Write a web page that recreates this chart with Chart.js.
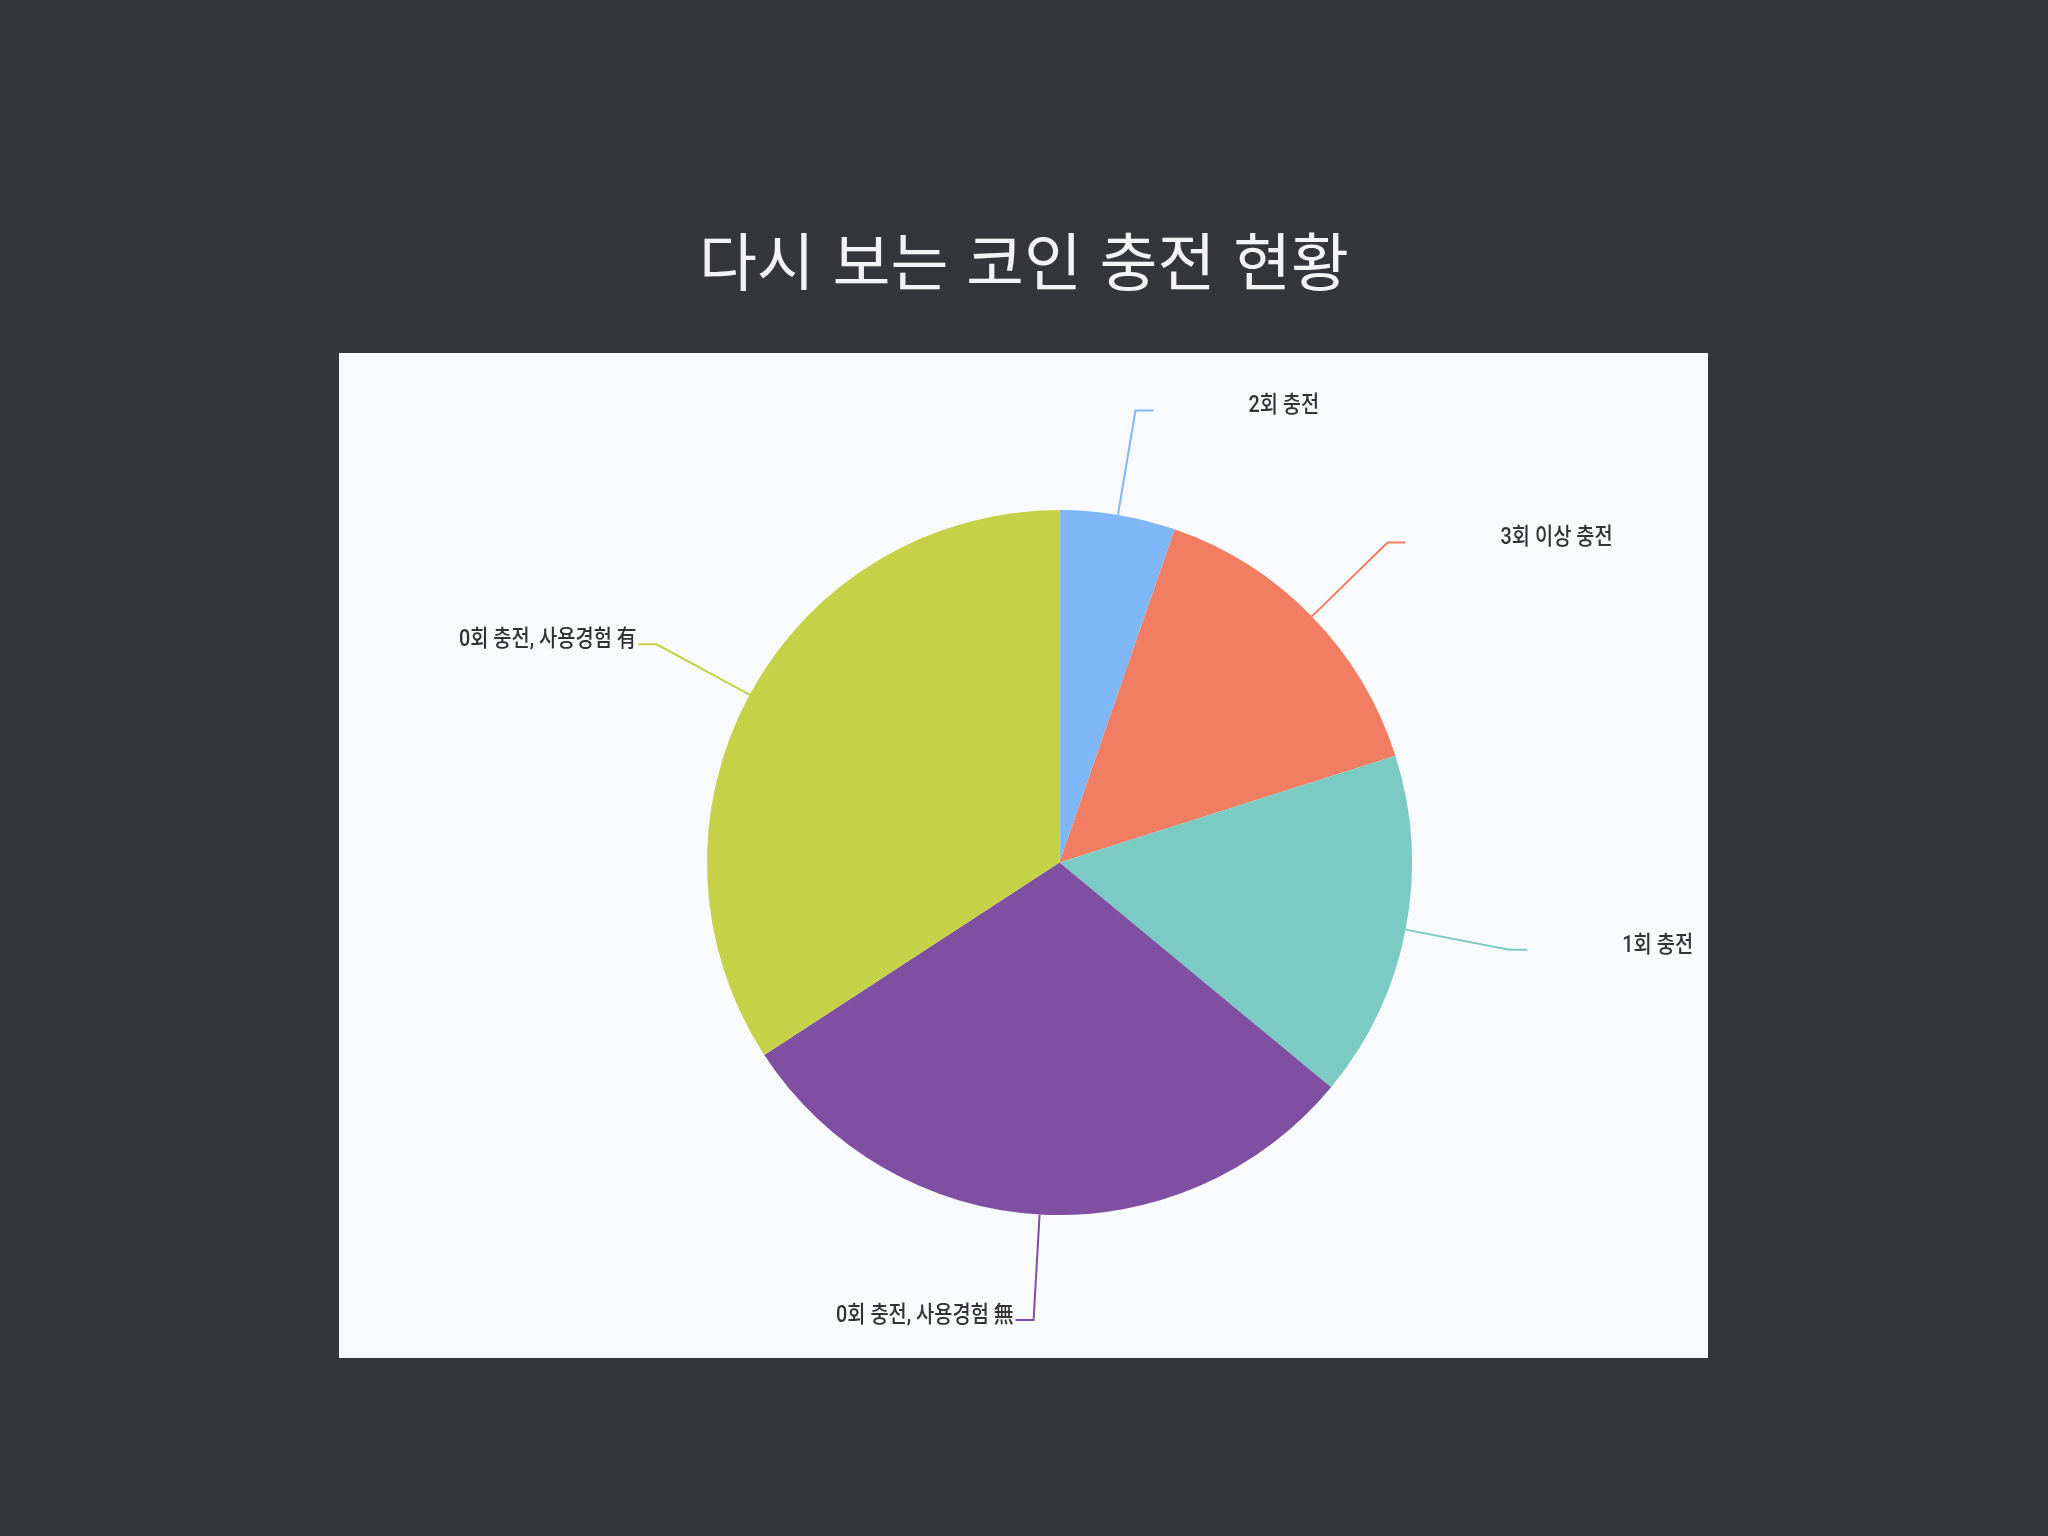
<!DOCTYPE html>
<html lang="ko">
<head>
    <meta charset="UTF-8">
    <title>다시 보는 코인 충전 현황</title>
    <style>
        html, body { margin: 0; padding: 0; }
        body {
            width: 2048px;
            height: 1536px;
            background: #35363a;
            position: relative;
            overflow: hidden;
        }
        #title {
            position: absolute;
            left: 0;
            top: 217px;
            width: 2048px;
            text-align: center;
            color: #f3f3f3;
            font-family: "Noto Sans CJK KR", "Noto Sans", sans-serif;
            font-size: 63px;
            line-height: 82px;
            font-weight: 400;
        }
        #panel {
            position: absolute;
            left: 339px;
            top: 353px;
            width: 1369px;
            height: 1005px;
            background: #f9fafc;
        }
    </style>
</head>
<body>
    <div id="title">다시 보는 코인 충전 현황</div>
    <div id="panel">
        <canvas id="myChart"></canvas>
    </div>

    <script src="https://cdn.jsdelivr.net/npm/chart.js"></script>

    <script>
    // slices, clockwise from 12 o'clock
    const labels = ['2회 충전', '3회 이상 충전', '1회 충전', '0회 충전, 사용경험 無', '0회 충전, 사용경험 有'];
    const values = [5.3, 14.8, 15.9, 29.8, 34.2];
    const colors = ['#80b7f9', '#f17d62', '#7bcbc4', '#7f4fa2', '#c5d248'];

    // leader lines + outside labels
    const calloutPlugin = {
        id: 'callouts',
        afterDatasetsDraw(chart) {
            const ctx = chart.ctx;
            const meta = chart.getDatasetMeta(0);
            meta.data.forEach((arc, i) => {
                const p = arc.getProps(['x', 'y', 'startAngle', 'endAngle', 'outerRadius'], true);
                const mid = (p.startAngle + p.endAngle) / 2;
                const cos = Math.cos(mid), sin = Math.sin(mid);
                const r = p.outerRadius;
                const x0 = p.x + cos * r, y0 = p.y + sin * r;
                const x1 = p.x + cos * r * 1.3, y1 = p.y + sin * r * 1.3;
                const right = cos >= 0;
                const x2 = x1 + (right ? 18 : -18);

                ctx.save();
                ctx.strokeStyle = colors[i];
                ctx.lineWidth = 2;
                ctx.beginPath();
                ctx.moveTo(x0, y0);
                ctx.lineTo(x1, y1);
                ctx.lineTo(x2, y1);
                ctx.stroke();

                // narrow-looking label font
                ctx.fillStyle = '#333335';
                ctx.font = '500 23px Roboto, "Noto Sans CJK KR", sans-serif';
                ctx.textBaseline = 'middle';
                const tx = right ? x2 + 95 : x2 - 2;
                ctx.translate(tx, y1 - 4);
                ctx.scale(0.86, 1);
                ctx.textAlign = right ? 'left' : 'right';
                ctx.fillText(labels[i], 0, 0);
                ctx.restore();
            });
        }
    };

    const ctx = document.getElementById('myChart');

    new Chart(ctx, {
        type: 'pie',
        data: {
            labels: labels,
            datasets: [{
                data: values,
                backgroundColor: colors,
                borderWidth: 0,
                hoverOffset: 0
            }]
        },
        options: {
            responsive: true,
            maintainAspectRatio: false,
            animation: false,
            layout: {
                padding: { left: 368, right: 296, top: 157, bottom: 143 }
            },
            plugins: {
                legend: { display: false },
                tooltip: { enabled: false }
            }
        },
        plugins: [calloutPlugin]
    });
    </script>
</body>
</html>
